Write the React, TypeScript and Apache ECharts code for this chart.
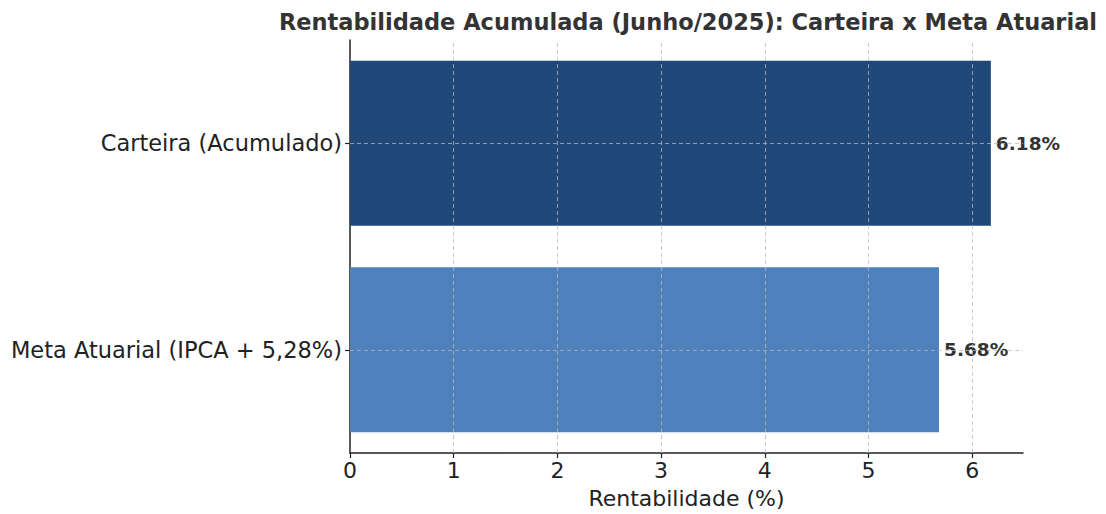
import React, { useEffect, useRef } from "react";
import * as echarts from "echarts";

const categories = ["Meta Atuarial (IPCA + 5,28%)", "Carteira (Acumulado)"];
const values = [5.68, 6.18];
const barColors = ["#4F81BD", "#1F4879"];
const xTicks = [0, 1, 2, 3, 4, 5, 6];
const title = "Rentabilidade Acumulada (Junho/2025): Carteira x Meta Atuarial";
const xName = "Rentabilidade (%)";

const FONT = "DejaVu Sans";
const gridStyle = { color: "#b8b8b8", width: 1, type: [4, 3] as any, opacity: 0.75 };

export default function App() {
  const ref = useRef<HTMLDivElement>(null);
  useEffect(() => {
    if (!ref.current) return;
    const chart = echarts.init(ref.current, undefined, { renderer: "svg" });
    chart.setOption({
      animation: false,
      backgroundColor: "#ffffff",
      title: {
        text: title,
        left: 683,
        top: 5,
        textAlign: "center",
        textStyle: { fontFamily: FONT, fontSize: 22.5, fontWeight: "bold", color: "#333333" },
      },
      grid: { left: 350, right: 83, top: 40, bottom: 46, containLabel: false },
      xAxis: {
        type: "value",
        min: 0,
        max: 6.49,
        interval: 1,
        name: xName,
        nameLocation: "middle",
        nameGap: 34,
        nameTextStyle: { fontFamily: FONT, fontSize: 22, color: "#222222", verticalAlign: "top" },
        axisLine: { show: true, lineStyle: { color: "#222222", width: 1.5 } },
        axisTick: { show: true, length: 5, lineStyle: { color: "#222222", width: 1.2 }, customValues: xTicks },
        axisLabel: { fontFamily: FONT, fontSize: 22, color: "#222222", margin: 6, customValues: xTicks },
        splitLine: { show: false },
      },
      yAxis: {
        type: "category",
        data: categories,
        axisLine: { show: true, lineStyle: { color: "#222222", width: 1.5 } },
        axisTick: { show: true, length: 5, alignWithLabel: true, lineStyle: { color: "#222222", width: 1.2 } },
        axisLabel: { fontFamily: FONT, fontSize: 22.5, color: "#222222", margin: 8 },
        splitLine: { show: false },
      },
      series: [
        {
          type: "bar",
          barWidth: "80%",
          data: values.map((v, i) => ({ value: v, itemStyle: { color: barColors[i] } })),
          label: {
            show: true,
            position: "right",
            distance: 5,
            fontFamily: FONT,
            fontSize: 18.5,
            fontWeight: "bold",
            color: "#333333",
            formatter: (p: any) => `${Number(p.value).toFixed(2)}%`,
          },
          markLine: {
            silent: true,
            symbol: ["none", "none"],
            label: { show: false },
            lineStyle: gridStyle,
            emphasis: { disabled: true },
            data: [
              ...xTicks.slice(1).map((t) => ({ xAxis: t })),
              ...categories.map((c) => ({ yAxis: c })),
            ],
          },
        },
      ],
    });
    return () => chart.dispose();
  }, []);
  return (
    <div
      ref={ref}
      style={{ position: "fixed", left: 0, top: 0, width: 1106, height: 514 }}
    />
  );
}
